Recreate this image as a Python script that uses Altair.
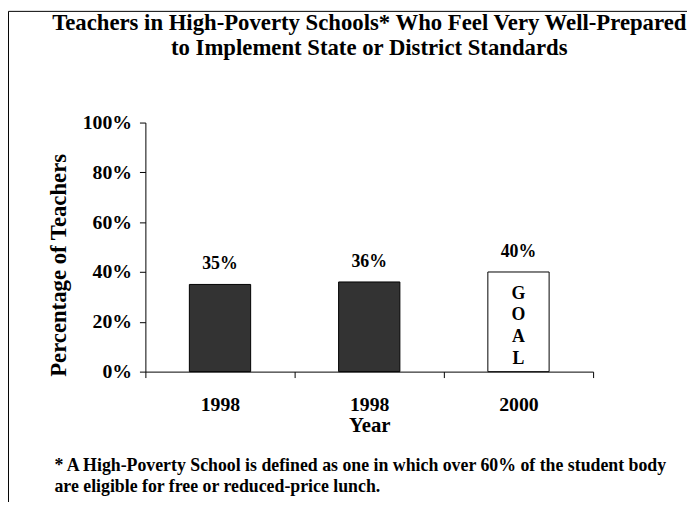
import altair as alt
import pandas as pd

# ---- data ----
years = ["1998", "1998", "2000"]
percents = [35, 36, 40]
kinds = ["actual", "actual", "goal"]
bar_labels = ["35%", "36%", "40%"]
goal_letters = ["G", "O", "A", "L"]
y_ticks = [0, 20, 40, 60, 80, 100]
title_lines = [
    "Teachers in High-Poverty Schools* Who Feel Very Well-Prepared",
    "to Implement State or District Standards",
]
footnote_lines = [
    "* A High-Poverty School is defined as one in which over 60% of the student body",
    "are eligible for free or reduced-price lunch.",
]

df = pd.DataFrame({
    "key": [f"{y}#{i}" for i, y in enumerate(years)],
    "pct": percents,
    "kind": kinds,
    "label": bar_labels,
})

FONT = "Liberation Serif"
W, H = 453, 252
PL, PT = 139, 113
PR = 687 - PL - W
PB = 494 - PT - H

x_enc = alt.X(
    "key:N", sort=None, title="Year",
    scale=alt.Scale(paddingInner=0, paddingOuter=0),
    axis=alt.Axis(
        labelExpr="isValid(datum.value) ? split(datum.value, '#')[0] : ''",
        labelAngle=0, tickBand="extent",
        tickSize=6, labelPadding=33, labelBaseline="alphabetic",
        labelFont=FONT, labelFontSize=20, labelFontWeight="bold",
        titleFont=FONT, titleFontSize=21, titleFontWeight="bold",
        titleY=61, titleBaseline="alphabetic",
    ),
)
y_enc = alt.Y(
    "pct:Q", title="Percentage of Teachers",
    scale=alt.Scale(domain=[0, 100]),
    axis=alt.Axis(
        values=y_ticks, labelExpr="datum.value + '%'", grid=False,
        tickSize=6, labelPadding=8,
        labelFont=FONT, labelFontSize=20, labelFontWeight="bold",
        titleFont=FONT, titleFontSize=23, titleFontWeight="bold",
        titleX=-81, titleY=144, titleAngle=270, titleAlign="center",
        titleBaseline="alphabetic",
    ),
)

base = alt.Chart(df)

border = alt.Chart(alt.Data(values=[{}])).mark_rect(
    fill="transparent", stroke="black", strokeWidth=1
).encode(
    x=alt.value(-PL + 0.5), x2=alt.value(W + PR + 40),
    y=alt.value(-PT + 0.5), y2=alt.value(H + PB + 40),
)

bars = base.mark_bar(width=62, stroke="black", strokeWidth=1).encode(
    x=x_enc, y=y_enc,
    fill=alt.Fill("kind:N", scale=alt.Scale(domain=["actual", "goal"], range=["#333333", "#ffffff"]), legend=None),
)

labels = base.mark_text(
    dy=-15.5, baseline="alphabetic", font=FONT, fontSize=18, fontWeight="bold", color="black"
).encode(x=alt.X("key:N", sort=None), y="pct:Q", text="label:N")

goal = base.transform_filter("datum.kind == 'goal'").mark_text(
    dy=27, baseline="alphabetic", lineHeight=22, font=FONT, fontSize=18, fontWeight="bold", color="black"
).encode(x=alt.X("key:N", sort=None), y="pct:Q", text=alt.value(goal_letters))

footnote = alt.Chart(alt.Data(values=[{}])).mark_text(
    align="left", baseline="alphabetic", lineHeight=21, font=FONT, fontSize=18, fontWeight="bold", color="black"
).encode(x=alt.value(-92), y=alt.value(353), text=alt.value(footnote_lines))

chart = alt.layer(border, bars, labels, goal, footnote).properties(
    width=W, height=H,
    title=alt.TitleParams(
        title_lines, font=FONT, fontSize=23, fontWeight="bold", anchor="middle",
        lineHeight=26, offset=-50, color="black",
    ),
    autosize=alt.AutoSizeParams(type="none"),
    padding={"left": PL, "top": PT, "right": PR, "bottom": PB},
    background="white",
).configure_view(stroke=None).configure_axis(
    domainColor="black", tickColor="black", labelColor="black", titleColor="black",
    domainWidth=1, tickWidth=1,
)

chart.save("out.html", embed_options={"renderer": "svg", "actions": False})
